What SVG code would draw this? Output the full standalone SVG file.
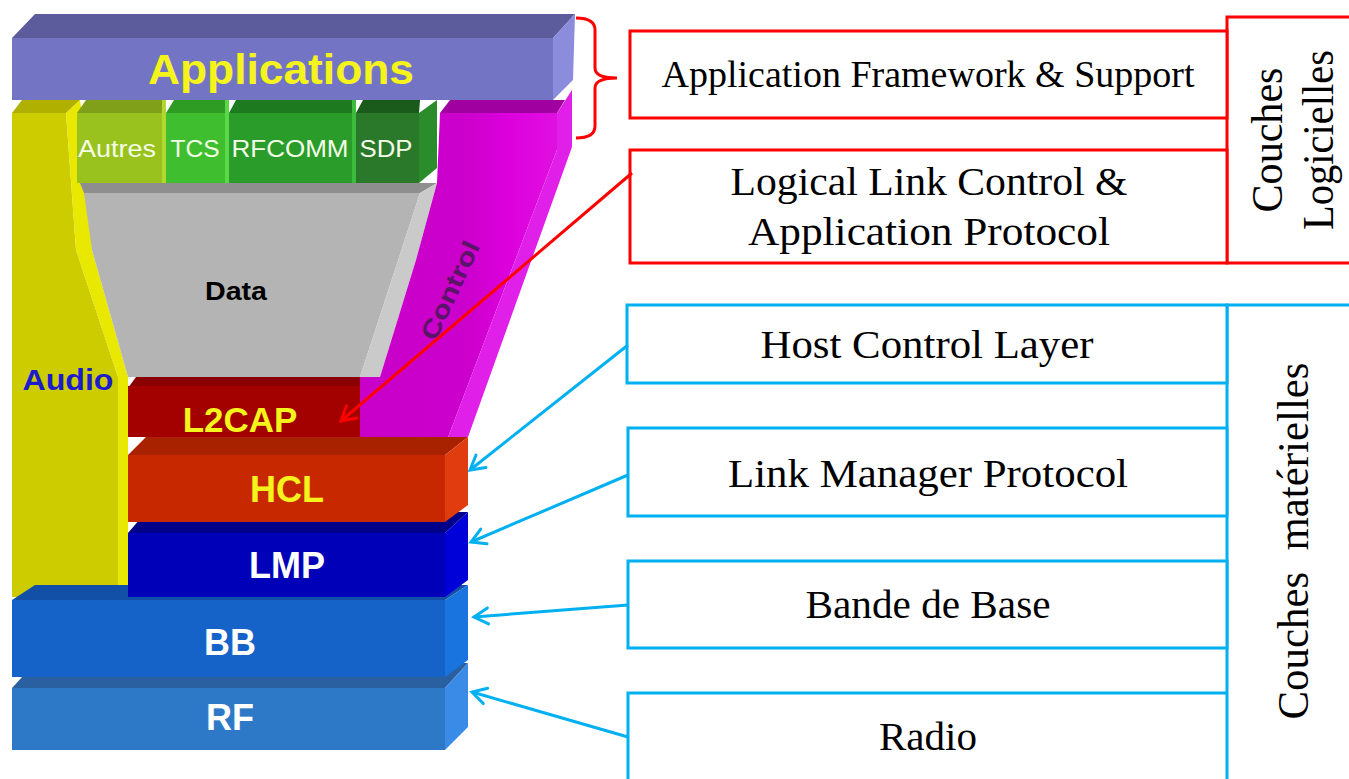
<svg xmlns="http://www.w3.org/2000/svg" width="1349" height="779" viewBox="0 0 1349 779">
<style>
.lbl{font-family:"Liberation Sans",Arial,sans-serif;font-weight:bold;text-anchor:middle}
.proto{font-family:"Liberation Sans",Arial,sans-serif;fill:#f4ffe8;text-anchor:middle}
.ser{font-family:"Liberation Serif","Times New Roman",serif;fill:#000;text-anchor:middle}
.rbox{fill:#fff;stroke:#ff0000;stroke-width:3}
.bbox{fill:#fff;stroke:#00b0f0;stroke-width:3}
.rline{fill:none;stroke:#ff0000;stroke-width:3}
.bline{fill:none;stroke:#00b0f0;stroke-width:3}
</style>
<defs>
<marker id="ar" markerUnits="userSpaceOnUse" markerWidth="22" markerHeight="22" refX="17" refY="10" orient="auto">
<path d="M3,2 L17,10 L3,18" fill="none" stroke="#ff0000" stroke-width="3" stroke-linecap="round"/>
</marker>
<marker id="ab" markerUnits="userSpaceOnUse" markerWidth="22" markerHeight="22" refX="17" refY="10" orient="auto">
<path d="M3,2 L17,10 L3,18" fill="none" stroke="#00b0f0" stroke-width="3" stroke-linecap="round"/>
</marker>
<linearGradient id="mag" x1="0" y1="0" x2="1" y2="0">
<stop offset="0" stop-color="#c800c8"/>
<stop offset="0.55" stop-color="#cc00cc"/>
<stop offset="0.75" stop-color="#dc00dc"/>
<stop offset="1" stop-color="#e010e0"/>
</linearGradient>
</defs>
<rect width="1349" height="779" fill="#fff"/>

<g id="audio">
<polygon points="12,113 22,100 80,100 66,113" fill="#b0b000"/>
<polygon points="12,113 66,113 76,250 118,377 118,597 12,597" fill="#cccc00"/>
<polygon points="66,113 80,100 82,113 92,250 128,377 128,590 118,597 118,377 76,250" fill="#e8e800"/>
<text class="lbl" x="68" y="390" font-size="30" fill="#1c1ccc" textLength="91" lengthAdjust="spacingAndGlyphs">Audio</text>
</g>

<g id="data">
<polygon points="80,183 437,183 420,193 84,193" fill="#8e8e8e"/>
<polygon points="84,193 420,193 360,377 128,377 92,250" fill="#b4b4b4"/>
<polygon points="420,193 437,183 416,260 380,377 360,377" fill="#cacaca"/>
<text class="lbl" x="236" y="300" font-size="25" fill="#000" textLength="62" lengthAdjust="spacingAndGlyphs">Data</text>
</g>

<g id="control">
<polygon points="440,113 450,100 565,100 557,113" fill="#a000a0"/>
<polygon points="440,113 557,113 557,150 447,440 360,440 360,377 380,377 416,260 437,183" fill="url(#mag)"/>
<polygon points="557,113 572,90 572,147 468,437 447,440 557,150" fill="#e020e8"/>
<text class="lbl" transform="translate(458,294) rotate(-65)" font-size="25" fill="#5a1468" textLength="106" lengthAdjust="spacingAndGlyphs">Control</text>
</g>

<g id="applications">
<polygon points="12,38 35,14 575,14 553,38" fill="#5c5c9c"/>
<rect x="12" y="38" width="541" height="62" fill="#7474c4"/>
<polygon points="553,38 575,14 573,80 553,100" fill="#8c8cdc"/>
<text class="lbl" x="281" y="84" font-size="43" fill="#f4f41c" textLength="266" lengthAdjust="spacingAndGlyphs">Applications</text>
</g>

<g id="protocols">
<polygon points="77,113 86,100 163,100 162,113" fill="#7fa018"/>
<rect x="77" y="113" width="85" height="70" fill="#99c21e"/>
<rect x="162" y="100" width="4" height="83" fill="#b2d830"/>
<polygon points="166,113 174,100 226,100 225,113" fill="#2e9c22"/>
<rect x="166" y="113" width="59" height="70" fill="#3fbf2f"/>
<rect x="225" y="100" width="4" height="83" fill="#5ad848"/>
<polygon points="229,113 236,100 353,100 352,113" fill="#1e7a1e"/>
<rect x="229" y="113" width="123" height="70" fill="#2a9c2a"/>
<rect x="352" y="100" width="4" height="83" fill="#3cbc3c"/>
<polygon points="356,113 363,100 420,100 419,113" fill="#1a5a1a"/>
<rect x="356" y="113" width="63" height="70" fill="#2a782a"/>
<polygon points="419,113 437,100 437,168 419,183" fill="#2a8c2a"/>
<text class="proto" x="117" y="157" font-size="23" textLength="78" lengthAdjust="spacingAndGlyphs">Autres</text>
<text class="proto" x="195" y="157" font-size="23" textLength="49" lengthAdjust="spacingAndGlyphs">TCS</text>
<text class="proto" x="290" y="157" font-size="23" textLength="117" lengthAdjust="spacingAndGlyphs">RFCOMM</text>
<text class="proto" x="386" y="157" font-size="23" textLength="53" lengthAdjust="spacingAndGlyphs">SDP</text>
</g>

<g id="rf">
<polygon points="12,688 35,663 468,663 445,688" fill="#2a5fa0"/>
<rect x="12" y="688" width="433" height="62" fill="#2e78c8"/>
<polygon points="445,688 468,663 468,727 445,750" fill="#3a8ae8"/>
<text class="lbl" x="230" y="730" font-size="36" fill="#fff">RF</text>
</g>

<g id="bb">
<polygon points="12,600 35,585 468,585 445,600" fill="#1250a8"/>
<rect x="12" y="600" width="433" height="77" fill="#1562c8"/>
<polygon points="445,600 468,585 468,660 445,677" fill="#1a74e0"/>
<text class="lbl" x="230" y="655" font-size="36" fill="#fff">BB</text>
</g>

<g id="lmp">
<polygon points="128,533 146,512 468,512 445,533" fill="#000088"/>
<rect x="128" y="533" width="317" height="64" fill="#0000b8"/>
<polygon points="445,533 468,512 468,580 445,597" fill="#0000d8"/>
<text class="lbl" x="287" y="578" font-size="36" fill="#fff">LMP</text>
</g>

<g id="hcl">
<polygon points="128,455 146,437 468,437 445,455" fill="#a82200"/>
<rect x="128" y="455" width="317" height="67" fill="#c82800"/>
<polygon points="445,455 468,437 468,505 445,522" fill="#e03c10"/>
<text class="lbl" x="287" y="502" font-size="36" fill="#f4f41c">HCL</text>
</g>

<g id="l2cap">
<polygon points="128,388 136,377 360,377 360,388" fill="#8a0000"/>
<rect x="128" y="386" width="232" height="51" fill="#a30000"/>
<text class="lbl" x="240" y="432" font-size="35" fill="#f4f41c">L2CAP</text>
</g>

<g id="bracket">
<path class="rline" d="M576,18 Q595,18 595,30 L595,68 Q595,78 617,78 Q595,78 595,88 L595,126 Q595,138 576,138"/>
</g>

<g id="couches-logicielles">
<polyline class="rline" points="1349,17 1227,17 1227,263 1349,263"/>
<text class="ser" transform="translate(1282,140) rotate(-90)" font-size="44" textLength="145" lengthAdjust="spacingAndGlyphs">Couches</text>
<text class="ser" transform="translate(1333,140) rotate(-90)" font-size="44" textLength="180" lengthAdjust="spacingAndGlyphs">Logicielles</text>
</g>

<g id="app-framework">
<rect class="rbox" x="630" y="31" width="597" height="87"/>
<text class="ser" x="928" y="87" font-size="37" textLength="533" lengthAdjust="spacingAndGlyphs">Application Framework &amp; Support</text>
</g>

<g id="llc">
<rect class="rbox" x="630" y="150" width="597" height="113"/>
<text class="ser" x="929" y="195" font-size="41" textLength="397" lengthAdjust="spacingAndGlyphs">Logical Link Control &amp;</text>
<text class="ser" x="929" y="245" font-size="41" textLength="362" lengthAdjust="spacingAndGlyphs">Application Protocol</text>
</g>

<g id="couches-materielles">
<polyline class="bline" points="1349,305 1227,305 1227,779"/>
<text class="ser" transform="translate(1308,541) rotate(-90)" font-size="44" textLength="357" lengthAdjust="spacingAndGlyphs" style="white-space:pre">Couches  matérielles</text>
</g>

<g id="host-control">
<rect class="bbox" x="627" y="305" width="600" height="78"/>
<text class="ser" x="927" y="358" font-size="41" textLength="333" lengthAdjust="spacingAndGlyphs">Host Control Layer</text>
</g>

<g id="link-manager">
<rect class="bbox" x="628" y="428" width="599" height="88"/>
<text class="ser" x="928" y="487" font-size="41" textLength="400" lengthAdjust="spacingAndGlyphs">Link Manager Protocol</text>
</g>

<g id="bande-base">
<rect class="bbox" x="628" y="561" width="599" height="87"/>
<text class="ser" x="928" y="618" font-size="41" textLength="245" lengthAdjust="spacingAndGlyphs">Bande de Base</text>
</g>

<g id="radio">
<polyline class="bline" points="628,782 628,693 1227,693"/>
<text class="ser" x="928" y="750" font-size="41" textLength="98" lengthAdjust="spacingAndGlyphs">Radio</text>
</g>

<g id="connectors">
<line class="rline" x1="632" y1="173" x2="341" y2="421" marker-end="url(#ar)"/>
<line class="bline" x1="628" y1="345" x2="470" y2="470" marker-end="url(#ab)"/>
<line class="bline" x1="628" y1="475" x2="471" y2="542" marker-end="url(#ab)"/>
<line class="bline" x1="628" y1="605" x2="474" y2="617" marker-end="url(#ab)"/>
<line class="bline" x1="628" y1="737" x2="472" y2="692" marker-end="url(#ab)"/>
</g>
</svg>
